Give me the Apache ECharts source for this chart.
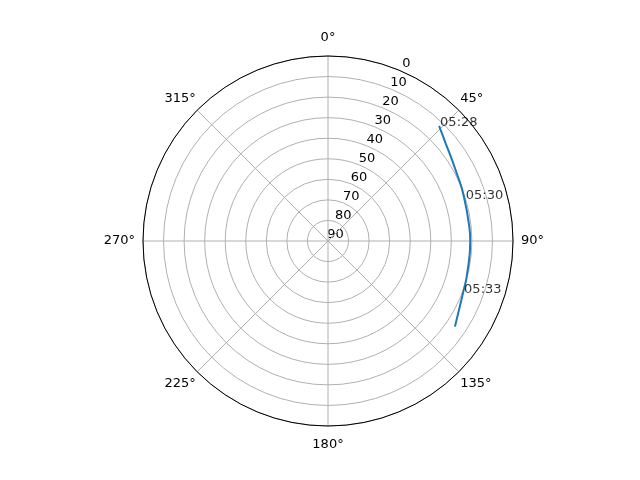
<!DOCTYPE html>
<html>
<head>
<meta charset="utf-8">
<script src="https://cdn.jsdelivr.net/npm/echarts@6/dist/echarts.min.js"></script>
<style>
  html, body { margin: 0; padding: 0; background: #fff; }
  #main { width: 640px; height: 480px; }
</style>
</head>
<body>
<div id="main"></div>
<script>
// sky track: azimuth (deg) and elevation (deg)
const azimuth = [44.0, 50.3, 56.8, 63.7, 70.6, 84.2, 90.0, 103.8, 110.5, 117.1, 124.0];
const elevation = [12.2, 15.6, 17.9, 19.5, 20.3, 20.9, 20.8, 20.4, 19.7, 18.2, 15.5];

// time annotations along the track
const labelTimes = ["05:28", "05:30", "05:33"];
const labelAzimuth = [44.0, 73.0, 111.0];
const labelElevation = [12.2, 20.4, 19.6];

const font = "DejaVu Sans";
const center = [328, 241];
const radius = 185;

const labelText = { color: "#000", fontSize: 13, fontFamily: font };

let myChart = echarts.init(document.getElementById("main"));
myChart.setOption({
  animation: false,
  textStyle: { fontFamily: font },
  polar: [
    { center: center, radius: radius },
    // radial tick labels sit a little off the 22.5° line, like matplotlib
    { center: [center[0] + 7.5, center[1] - 6.5], radius: radius },
  ],
  angleAxis: [
    {
      polarIndex: 0,
      type: "value",
      min: 0,
      max: 360,
      interval: 45,
      startAngle: 90,
      clockwise: true,
      axisLine: { lineStyle: { color: "#000", width: 1 } },
      axisTick: { show: false },
      axisLabel: {
        margin: 2,
        ...labelText,
        formatter: (v) => {
          if (v === 360) return "";
          if (v % 180 === 0) return "{v|" + v + "°}";
          if (v % 90 === 0) return "{h|" + v + "°}";
          return "{d|" + v + "°}";
        },
        rich: {
          v: { ...labelText, padding: [10, 0, 10, 0] },
          h: { ...labelText, padding: [0, 6, 0, 6] },
          d: { ...labelText, padding: [4, 0, 4, 0] },
        },
      },
      splitLine: { show: true, lineStyle: { color: "#b0b0b0", width: 1 } },
      z: 3,
    },
    {
      polarIndex: 1,
      type: "value",
      min: 0,
      max: 360,
      startAngle: 67.5,
      clockwise: true,
      show: false,
    },
  ],
  radiusAxis: [
    {
      polarIndex: 0,
      type: "value",
      min: 0,
      max: 90,
      interval: 10,
      inverse: true,
      axisLine: { show: false },
      axisTick: { show: false },
      axisLabel: { show: false },
      splitLine: { show: true, lineStyle: { color: "#b0b0b0", width: 1 } },
    },
    {
      polarIndex: 1,
      type: "value",
      min: 0,
      max: 90,
      interval: 10,
      inverse: true,
      axisLine: { show: false },
      axisTick: { show: false },
      splitLine: { show: false },
      axisLabel: {
        margin: 0,
        align: "center",
        verticalAlign: "middle",
        ...labelText,
      },
    },
  ],
  series: [
    {
      type: "line",
      coordinateSystem: "polar",
      polarIndex: 0,
      data: azimuth.map((a, i) => [elevation[i], a]),
      smooth: true,
      showSymbol: false,
      lineStyle: { color: "#1f77b4", width: 2 },
      z: 4,
    },
    {
      type: "scatter",
      coordinateSystem: "polar",
      polarIndex: 0,
      symbolSize: 0,
      data: labelTimes.map((t, i) => ({ name: t, value: [labelElevation[i], labelAzimuth[i]] })),
      label: {
        show: true,
        position: [1, 3],
        align: "left",
        verticalAlign: "bottom",
        formatter: (p) => p.name,
        ...labelText,
      },
      z: 5,
    },
  ],
});
</script>
</body>
</html>
